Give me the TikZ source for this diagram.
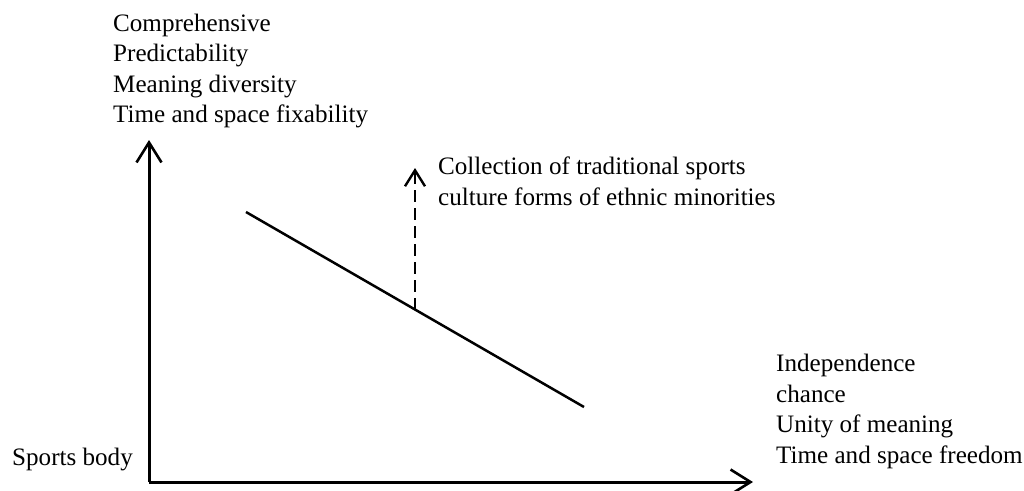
\documentclass[tikz,border=0pt]{standalone}
\usepackage{fontspec}
\setmainfont{Liberation Serif}
\usetikzlibrary{arrows.meta}
\begin{document}
\begin{tikzpicture}[x=1pt,y=-1pt,
  lbl/.style={inner sep=0pt,anchor=base west,align=left,font=\fontsize{25.1}{30.5}\selectfont},
  axis/.style={line width=3pt,-{Straight Barb[length=20pt,width=25pt,line width=2.6pt]}},
  trend/.style={line width=2.5pt},
  dasharrow/.style={line width=2.6pt,dash pattern=on 12pt off 6pt,-{Straight Barb[length=16pt,width=20pt,line width=2.4pt]}}]
\useasboundingbox (0,0) rectangle (1024,490);
\coordinate (O) at (149,482);
\coordinate (ytip) at (149,140);
\coordinate (xtip) at (753,482);
\coordinate (l1) at (246,212);
\coordinate (l2) at (584,407);
\coordinate (dbase) at (415,309.5);
\coordinate (dtip) at (415,168);
\draw[axis] (O) -- (ytip);
\draw[axis] (O) -- (xtip);
\draw[trend] (l1) -- (l2);
\draw[dasharrow] (dbase) -- (dtip);
\node[lbl] (top) at (113,122.5) {Comprehensive\\Predictability\\Meaning diversity\\Time and space fixability};
\node[lbl] (coll) at (438,205) {Collection of traditional sports\\culture forms of ethnic minorities};
\node[lbl] (right) at (776,463) {Independence\\chance\\Unity of meaning\\Time and space freedom};
\node[lbl] (body) at (12,465) {Sports body};
\end{tikzpicture}
\end{document}
